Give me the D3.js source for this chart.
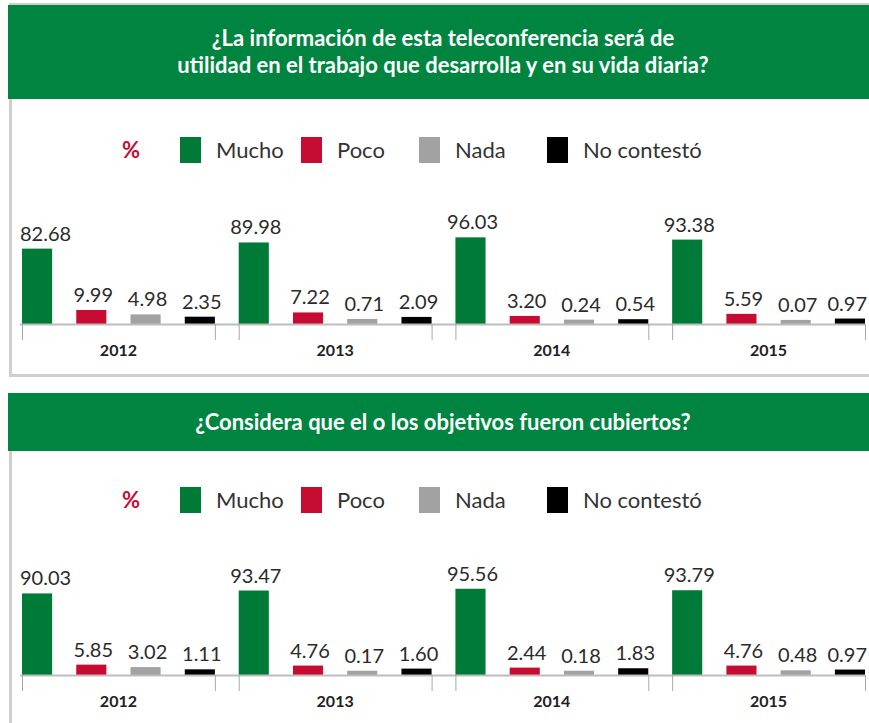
<!DOCTYPE html>
<html>
<head>
<meta charset="utf-8">
<script src="https://cdn.jsdelivr.net/npm/d3@7"></script>
<style>
  body { margin: 0; background: #fff; }
  svg { display: block; }
</style>
</head>
<body>
<div id="chart"></div>
<script>
// Data
const years = ['2012', '2013', '2014', '2015'];
const categories = ['Mucho', 'Poco', 'Nada', 'No contestó'];

const q1Title = ['¿La información de esta teleconferencia será de',
                 'utilidad en el trabajo que desarrolla y en su vida diaria?'];
const q1Mucho = [82.68, 89.98, 96.03, 93.38];
const q1Poco = [9.99, 7.22, 3.20, 5.59];
const q1Nada = [4.98, 0.71, 0.24, 0.07];
const q1NoContesto = [2.35, 2.09, 0.54, 0.97];

const q2Title = ['¿Considera que el o los objetivos fueron cubiertos?'];
const q2Mucho = [90.03, 93.47, 95.56, 93.79];
const q2Poco = [5.85, 4.76, 2.44, 4.76];
const q2Nada = [3.02, 0.17, 0.18, 0.48];
const q2NoContesto = [1.11, 1.60, 1.83, 0.97];

const colors = {
    'Mucho': '#007A37',
    'Poco': '#C70C32',
    'Nada': '#A2A2A2',
    'No contestó': '#000000'
};

const W = 869, H = 723;
const headerGreen = '#008540';
const borderGray = '#CFCFCF';

const svg = d3.select('#chart').append('svg')
    .attr('width', W)
    .attr('height', H);

// Scales shared by both panels
const x0 = d3.scaleBand()
    .domain(years)
    .range([22, 865])
    .paddingInner(0.11)
    .paddingOuter(0);

const x1 = d3.scaleBand()
    .domain(categories)
    .range([0, x0.bandwidth()])
    .paddingInner(0.445)
    .paddingOuter(0);

// bar height (px) for a value; small values kept visible
const h = d3.scaleLinear()
    .domain([0, 2, 10, 100])
    .range([4, 7, 14, 90]);

const legendX = [180, 301, 419, 547];

function drawPanel(opts) {
    const g = svg.append('g');
    const series = opts.series;
    const data = years.map((yr, i) => ({
        year: yr,
        values: categories.map((c, j) => ({ cat: c, value: series[j][i] }))
    }));

    // frame
    const top = opts.frameTop !== null ? opts.frameTop : opts.headerY;
    if (opts.frameTop !== null) {
        g.append('rect')
            .attr('x', 9).attr('y', opts.frameTop)
            .attr('width', W - 9).attr('height', 2)
            .attr('fill', borderGray);
    }
    g.append('rect')
        .attr('x', 9).attr('y', top)
        .attr('width', 3)
        .attr('height', opts.frameBottom - top)
        .attr('fill', borderGray);
    if (opts.closeBottom) {
        g.append('rect')
            .attr('x', 9).attr('y', opts.frameBottom - 3)
            .attr('width', W - 9).attr('height', 3)
            .attr('fill', borderGray);
    }

    // header
    g.append('rect')
        .attr('x', 8).attr('y', opts.headerY)
        .attr('width', W - 8).attr('height', opts.headerH)
        .attr('fill', headerGreen);

    const lineH = 27;
    const firstY = opts.headerY + opts.headerH / 2 - (opts.title.length - 1) * lineH / 2;
    g.selectAll('.title')
        .data(opts.title)
        .enter().append('text')
        .attr('class', 'title')
        .attr('x', 443)
        .attr('y', (d, i) => firstY + i * lineH)
        .attr('dy', '0.35em')
        .attr('text-anchor', 'middle')
        .attr('fill', '#fff')
        .style('font-family', 'Lato, "Open Sans", sans-serif')
        .style('font-weight', 700)
        .style('font-size', '22px')
        .text(d => d);

    // legend
    const ly = opts.legendY;
    g.append('text')
        .attr('x', 131).attr('y', ly)
        .attr('dy', '0.35em')
        .attr('text-anchor', 'middle')
        .attr('fill', '#C70C32')
        .style('font-family', 'Lato, sans-serif')
        .style('font-weight', 700)
        .style('font-size', '22px')
        .text('%');

    const leg = g.selectAll('.legend')
        .data(categories)
        .enter().append('g')
        .attr('class', 'legend')
        .attr('transform', (d, i) => `translate(${legendX[i]},${ly})`);
    leg.append('rect')
        .attr('x', 0).attr('y', -13)
        .attr('width', 21).attr('height', 26)
        .attr('fill', d => colors[d]);
    leg.append('text')
        .attr('x', 36).attr('y', 0)
        .attr('dy', '0.35em')
        .attr('fill', '#333')
        .style('font-family', 'Lato, sans-serif')
        .style('font-size', '22px')
        .text(d => d);

    // bars
    const base = opts.baseY;
    const groups = g.selectAll('.year')
        .data(data)
        .enter().append('g')
        .attr('class', 'year')
        .attr('transform', d => `translate(${x0(d.year)},0)`);

    groups.selectAll('rect')
        .data(d => d.values)
        .enter().append('rect')
        .attr('x', d => x1(d.cat))
        .attr('y', d => base - h(d.value))
        .attr('width', x1.bandwidth())
        .attr('height', d => h(d.value))
        .attr('fill', d => colors[d.cat]);

    groups.selectAll('.val')
        .data(d => d.values.map(v => Object.assign({ year: d.year }, v)))
        .enter().append('text')
        .attr('class', 'val')
        .attr('x', d => x1(d.cat) + x1.bandwidth() / 2 + 2)
        .attr('y', d => base - h(d.value) - 8)
        .attr('text-anchor', 'middle')
        .attr('fill', '#2b2b2b')
        .style('font-family', 'Lato, sans-serif')
        .style('font-size', '20px')
        .text(d => d.value.toFixed(2))
        .each(function(d) {
            // keep labels inside the frame
            const w = this.getComputedTextLength();
            const gx = x0(d.year) + (+this.getAttribute('x'));
            if (gx - w / 2 < 20) {
                this.setAttribute('x', 20 - x0(d.year) + w / 2);
            } else if (gx + w / 2 > W - 2) {
                this.setAttribute('x', W - 2 - x0(d.year) - w / 2);
            }
        });

    // axis
    g.append('line')
        .attr('x1', 20).attr('x2', W - 4)
        .attr('y1', base + 0.5).attr('y2', base + 0.5)
        .attr('stroke', '#BDBDBD')
        .attr('stroke-width', 2);

    const ticks = [];
    years.forEach(yr => {
        ticks.push(x0(yr));
        ticks.push(x0(yr) + x0.bandwidth());
    });
    g.selectAll('.tick')
        .data(ticks)
        .enter().append('line')
        .attr('class', 'tick')
        .attr('x1', d => d + 0.5).attr('x2', d => d + 0.5)
        .attr('y1', base).attr('y2', base + 16)
        .attr('stroke', '#A8A8A8')
        .attr('stroke-width', 1);

    g.selectAll('.yearLabel')
        .data(years)
        .enter().append('text')
        .attr('class', 'yearLabel')
        .attr('x', d => x0(d) + x0.bandwidth() / 2)
        .attr('y', base + 26)
        .attr('dy', '0.35em')
        .attr('text-anchor', 'middle')
        .attr('fill', '#222')
        .style('font-family', 'Lato, sans-serif')
        .style('font-weight', 700)
        .style('font-size', '16px')
        .text(d => d);
}

drawPanel({
    title: q1Title,
    series: [q1Mucho, q1Poco, q1Nada, q1NoContesto],
    frameTop: 3,
    frameBottom: 377,
    closeBottom: true,
    headerY: 5,
    headerH: 94,
    legendY: 150,
    baseY: 324
});

drawPanel({
    title: q2Title,
    series: [q2Mucho, q2Poco, q2Nada, q2NoContesto],
    frameTop: null,
    frameBottom: H,
    closeBottom: false,
    headerY: 393,
    headerH: 58,
    legendY: 500,
    baseY: 675
});
</script>
</body>
</html>
